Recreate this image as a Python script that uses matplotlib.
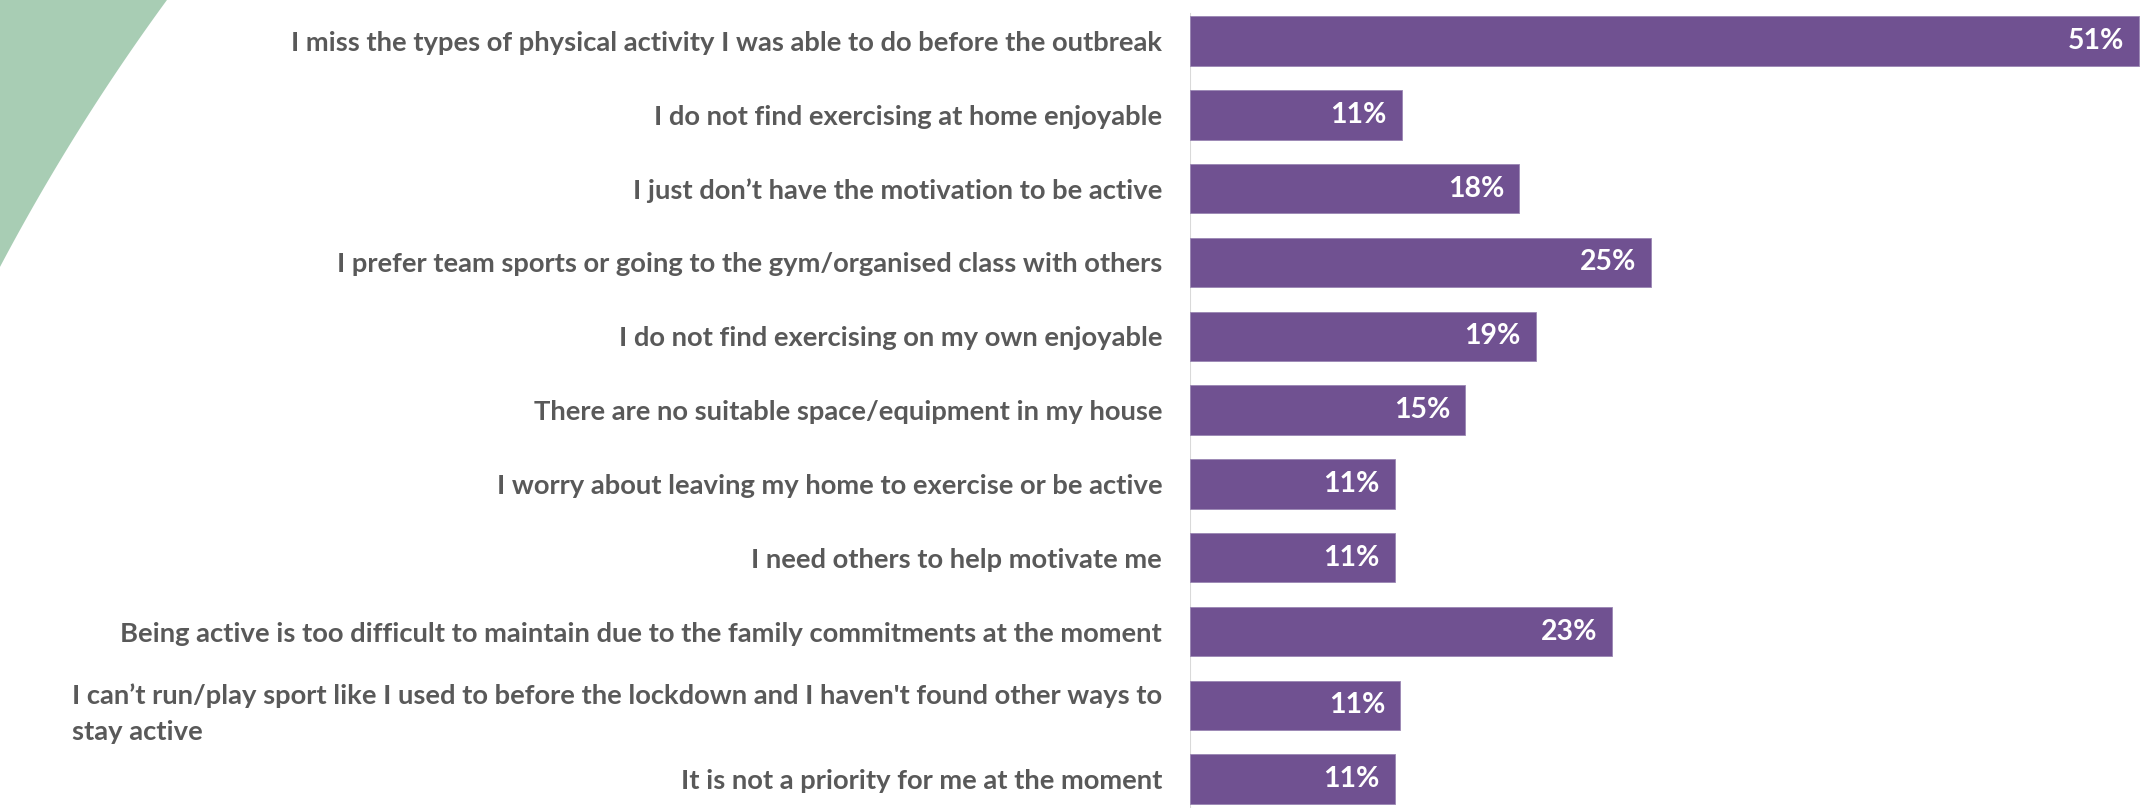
import numpy as np
import matplotlib
matplotlib.use("Agg")
import matplotlib.pyplot as plt
from matplotlib.patches import Polygon

plt.rcParams['font.family'] = ['Lato', 'DejaVu Sans']

reasons = [
    "I miss the types of physical activity I was able to do before the outbreak",
    "I do not find exercising at home enjoyable",
    "I just don\u2019t have the motivation to be active",
    "I prefer team sports or going to the gym/organised class with others",
    "I do not find exercising on my own enjoyable",
    "There are no suitable space/equipment in my house",
    "I worry about leaving my home to exercise or be active",
    "I need others to help motivate me",
    "Being active is too difficult to maintain due to the family commitments at the moment",
    "I can\u2019t run/play sport like I used to before the lockdown and I haven't found other ways to\nstay active",
    "It is not a priority for me at the moment",
]
shares = [51.0, 11.4, 17.7, 24.8, 18.6, 14.8, 11.0, 11.0, 22.7, 11.3, 11.0]

BAR = '#705191'
TXT = '#595959'
GREEN = '#a8cdb4'

W, H = 2151, 808
fig = plt.figure(figsize=(W / 100, H / 100), dpi=100)

# decorative green arc in the top-left corner (figure pixel coords, y up)
cx, cy, r = 1915, -471, 2166
a0 = np.arctan2(808 - cy, 167 - cx)
a1 = np.arctan2(541 - cy, 0 - cx)
t = np.linspace(a0, a1, 60)
arc = np.column_stack([cx + r * np.cos(t), cy + r * np.sin(t)])
pts = np.vstack([arc, [[0, 808]]])
pts = pts / [W, H]
fig.patches.append(Polygon(pts, closed=True, transform=fig.transFigure,
                           facecolor=GREEN, edgecolor='none', zorder=0))

x0 = 1190 / W
ax = fig.add_axes([x0, 0, 1 - x0, 1])
ax.patch.set_alpha(0)

y = np.arange(len(reasons))
ax.barh(y, shares, height=0.67, color=BAR, edgecolor='#9a86b3', linewidth=0.6)

for yi, v in zip(y, shares):
    ax.annotate(f"{round(v)}%", xy=(v, yi), xytext=(-11, 0),
                textcoords='offset points', ha='right', va='center',
                color='white', fontsize=20.5, fontweight='bold')

ax.set_xlim(0, 51 * (W - 1190) / 949)
ax.set_ylim(10.39, -0.556)
ax.set_yticks(y)
ax.set_yticklabels(reasons, fontsize=19.7, fontweight='bold', color=TXT)
for lab in ax.get_yticklabels():
    lab.set_multialignment('left')
    lab.set_linespacing(1.6)
ax.tick_params(axis='y', length=0, pad=20)
ax.set_xticks([])
for s in ['top', 'right', 'bottom', 'left']:
    ax.spines[s].set_visible(False)
ax.axvline(0, ymin=0, ymax=0.983, color='#d9d9d9', linewidth=1.5, zorder=0)

fig.savefig('out.png', dpi=100, facecolor='white')
